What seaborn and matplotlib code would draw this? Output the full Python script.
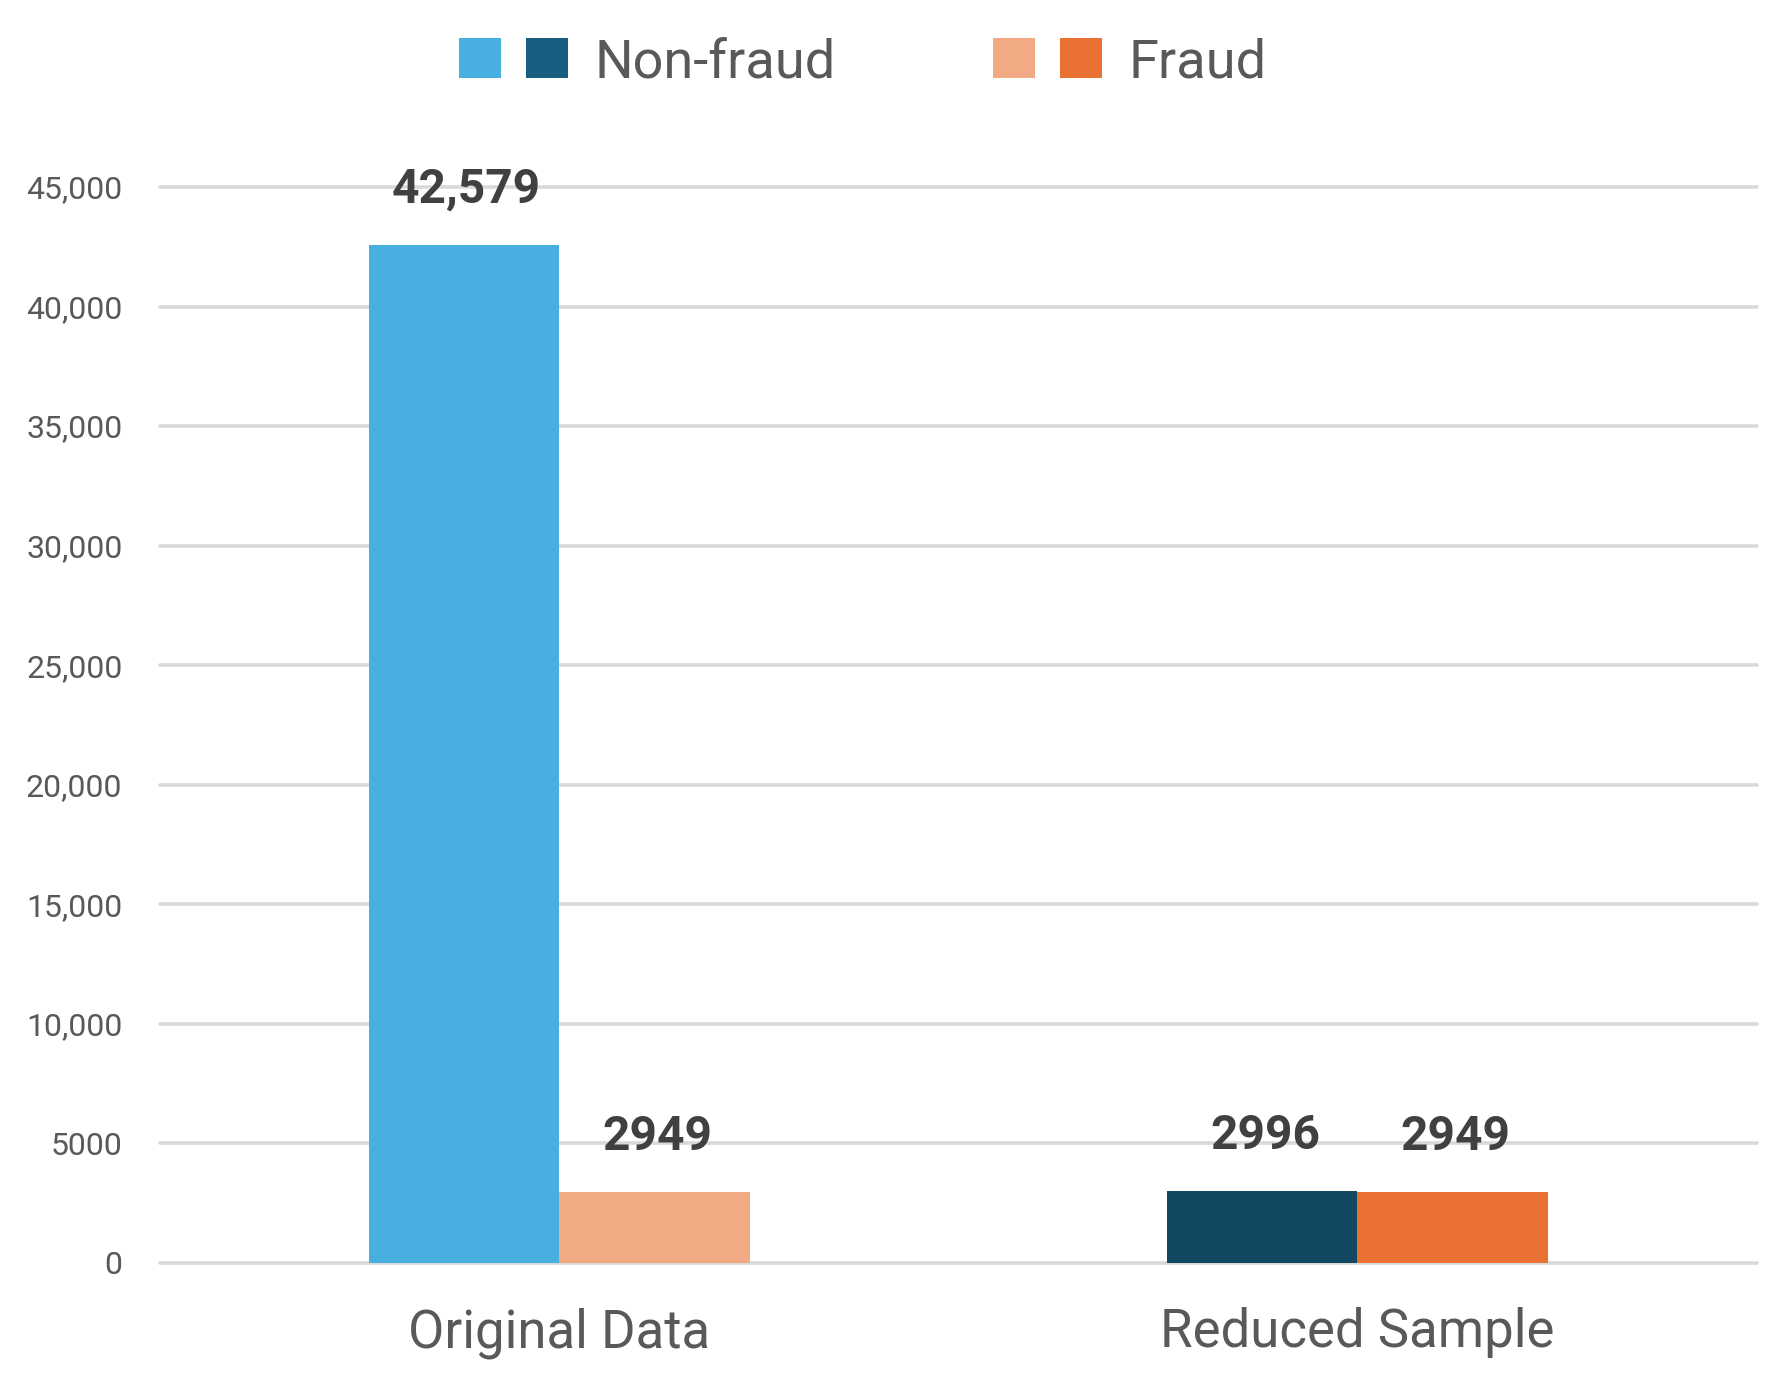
import pandas as pd
import numpy as np
import matplotlib.pyplot as plt
import seaborn as sns
from matplotlib.patches import Patch
from matplotlib.legend_handler import HandlerTuple

# data
datasets = ['Original Data', 'Reduced Sample']
classes = ['Non-fraud', 'Fraud']
non_fraud = [42579, 2996]
fraud = [2949, 2949]
ytick_vals = [0, 5000, 10000, 15000, 20000, 25000, 30000, 35000, 40000, 45000]
ytick_labels = ['0', '5000', '10,000', '15,000', '20,000', '25,000',
                '30,000', '35,000', '40,000', '45,000']

df = pd.DataFrame({
    'dataset': datasets * 2,
    'cls': [classes[0]] * 2 + [classes[1]] * 2,
    'count': non_fraud + fraud,
})

# each bar gets its own shade (light = original, dark = reduced)
bar_colors = {
    'Non-fraud': ['#47B0E0', '#124862'],
    'Fraud': ['#F1AA84', '#E97132'],
}
legend_colors = {
    'Non-fraud': ['#47B0E0', '#175E80'],
    'Fraud': ['#F1AA84', '#E97132'],
}

sns.set_style('white')
plt.rcParams['font.family'] = ['Roboto', 'DejaVu Sans']

fig = plt.figure(figsize=(17.87, 13.9), dpi=100)
ax = fig.add_axes([0.0895, 0.0914, 0.8935, 0.7741])

sns.barplot(data=df, x='dataset', y='count', hue='cls', hue_order=classes,
            order=datasets, width=0.477, legend=False, ax=ax, saturation=1)

for cont, cls in zip(ax.containers, classes):
    for bar, col in zip(cont, bar_colors[cls]):
        bar.set_facecolor(col)
        bar.set_edgecolor('none')
        v = bar.get_height()
        txt = f'{int(v):,}' if v >= 10000 else str(int(v))
        ax.annotate(txt, (bar.get_x() + bar.get_width() / 2, v),
                    xytext=(2, 40), textcoords='offset points',
                    ha='center', va='center', fontsize=34.5,
                    fontweight='bold', color='#404040', clip_on=False)

ax.set_xlim(-0.5, 1.5)
ax.set_ylim(0, 45000)
ax.set_yticks(ytick_vals)
ax.set_yticklabels(ytick_labels)
ax.tick_params(axis='y', labelsize=23, labelcolor='#595959', length=0, pad=27)
ax.tick_params(axis='x', labelsize=38, labelcolor='#595959', length=0, pad=32)
ax.set_xlabel('')
ax.set_ylabel('')
ax.yaxis.grid(True, color='#D9D9D9', linewidth=2.6)
for gl in ax.get_ygridlines():
    gl.set_clip_on(False)
ax.set_axisbelow(True)
sns.despine(ax=ax, left=True, bottom=True)

handles = [tuple(Patch(facecolor=c, edgecolor='none') for c in legend_colors[cls])
           for cls in classes]
fig.legend(handles, classes, handler_map={tuple: HandlerTuple(ndivide=None, pad=0.46)},
           ncol=2, loc='center', bbox_to_anchor=(0.483, 0.955), frameon=False,
           fontsize=39, labelcolor='#595959', handlelength=2.0, handleheight=0.75,
           handletextpad=0.5, columnspacing=2.9)

fig.savefig('out.png', dpi=100)
